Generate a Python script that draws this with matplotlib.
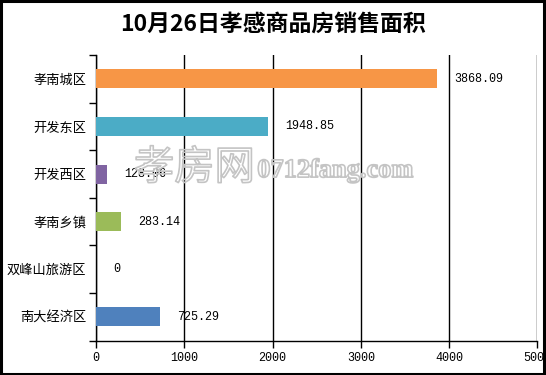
import matplotlib.pyplot as plt
import matplotlib.patheffects as pe
from matplotlib.patches import Rectangle

plt.rcParams['font.family'] = ['Noto Sans CJK SC', 'DejaVu Sans']

# data, top to bottom as in the picture
areas = ['孝南城区', '开发东区', '开发西区', '孝南乡镇', '双峰山旅游区', '南大经济区']
sales = [3868.09, 1948.85, 128.06, 283.14, 0, 725.29]
value_text = ['3868.09', '1948.85', '128.06', '283.14', '0', '725.29']
colors = ['#F79646', '#4BACC6', '#8064A2', '#9BBB59', '#4BACC6', '#4F81BD']
xticks = [0, 1000, 2000, 3000, 4000, 5000]

fig = plt.figure(figsize=(5.46, 3.75), dpi=100)
ax = fig.add_axes([0.176, 0.092, 0.808, 0.761])

ypos = list(range(len(areas)))[::-1]
ax.barh(ypos, sales, height=0.4, color=colors, zorder=3)

for y, v, t in zip(ypos, sales, value_text):
    ax.annotate(t, (v, y), xytext=(12, 0), textcoords='offset points',
                va='center', ha='left', fontsize=8.5, family='Liberation Mono', zorder=5)

ax.set_xlim(0, 5000)
ax.set_ylim(-0.5, len(areas) - 0.5)
ax.set_xticks(xticks)
ax.set_xticklabels([str(x) for x in xticks], family='Liberation Mono', fontsize=8.5)
ax.xaxis.grid(True, color='black', linewidth=1, zorder=1)

# boundary ticks on the category axis, labels in the middle
ax.set_yticks([i - 0.5 for i in range(len(areas) + 1)])
ax.set_yticklabels([])
ax.set_yticks(ypos, minor=True)
ax.set_yticklabels(areas, minor=True, fontsize=9.5)
ax.tick_params(axis='y', which='major', length=5, width=1, color='black')
ax.tick_params(axis='y', which='minor', length=0, pad=7)
ax.tick_params(axis='x', length=5, width=1, pad=3)

for s in ['top', 'right']:
    ax.spines[s].set_visible(False)
for s in ['left', 'bottom']:
    ax.spines[s].set_linewidth(1)
    ax.spines[s].set_color('black')

fig.text(0.5, 0.935, '10月26日孝感商品房销售面积', ha='center', va='center',
         fontsize=16.5, fontweight='bold')

# watermark, outline only
wm = [pe.Stroke(linewidth=1.2, foreground='#c4c4c4')]
fig.text(0.356, 0.552, '孝房网', ha='center', va='center', fontsize=29,
         color=(1, 1, 1, 0), path_effects=wm, zorder=4)
fig.text(0.614, 0.545, '0712fang.com', ha='center', va='center', fontsize=19,
         family='Liberation Serif', fontweight='bold', color=(1, 1, 1, 0),
         path_effects=wm, zorder=4)

fig.patches.append(Rectangle((0.002, 0.004), 0.994, 0.993, transform=fig.transFigure,
                             fill=False, edgecolor='black', linewidth=2.2))

fig.savefig('out.png', dpi=100)
